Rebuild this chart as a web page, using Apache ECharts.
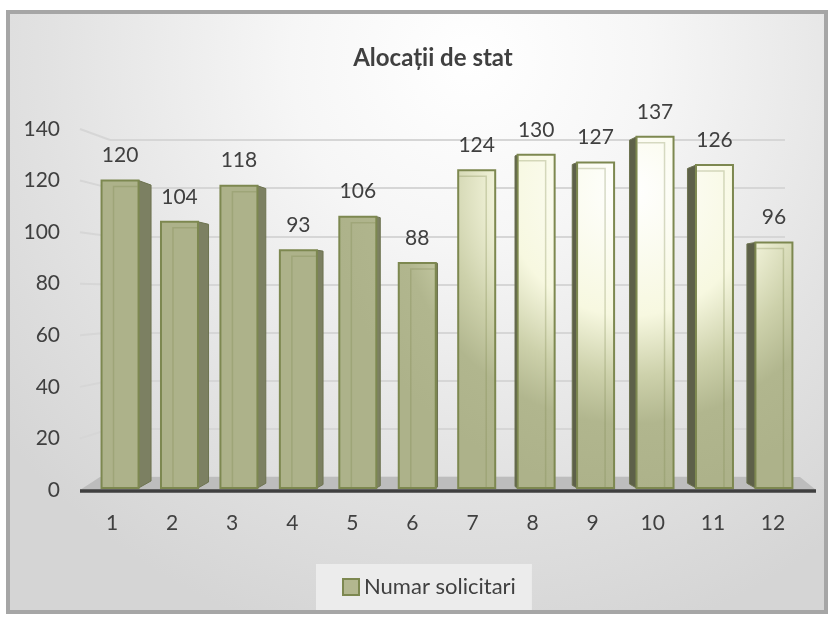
<!DOCTYPE html>
<html>
<head>
<meta charset="utf-8">
<script src="https://cdn.jsdelivr.net/npm/echarts@6/dist/echarts.min.js"></script>
<style>
  html, body { margin: 0; padding: 0; background: #ffffff; }
  #chart { width: 830px; height: 619px; }
</style>
</head>
<body>
<div id="chart"></div>
<script>
// data
const categories = ['1', '2', '3', '4', '5', '6', '7', '8', '9', '10', '11', '12'];
const values = [120, 104, 118, 93, 106, 88, 124, 130, 127, 137, 126, 96];
const yTicks = [0, 20, 40, 60, 80, 100, 120, 140];
const seriesName = 'Numar solicitari';

const FONT = 'Lato, "Open Sans", sans-serif';
const TEXT = '#404040';
const GRID_LINE = '#d6d6d6';
const yMax = yTicks[yTicks.length - 1];
const yStep = yTicks[1] - yTicks[0];

// light source on the bars (global coords)
const barFill = new echarts.graphic.RadialGradient(630, 190, 300, [
  { offset: 0, color: '#ffffff' },
  { offset: 0.42, color: '#f7f8e0' },
  { offset: 0.62, color: '#cdd1ab' },
  { offset: 0.78, color: '#b1b68e' },
  { offset: 1, color: '#adb28a' }
], true);

function renderBar(params, api) {
  const i = api.value(0);
  const v = api.value(1);
  const top = api.coord([i, v]);
  const base = api.coord([i, 0]);
  const w = 37;
  const dx = 8 - i * 0.64;
  const x0 = top[0] + dx - w / 2;
  const x1 = x0 + w;
  const yt = top[1];
  const yb = base[1] - 2;

  // side face, toward the middle of the chart
  let s = (5.8 - i) * 2.2;
  s = Math.max(-8.5, Math.min(12.5, s));
  const k = Math.abs(s) * 0.003;
  const vp = 300;
  const children = [];
  if (Math.abs(s) >= 1) {
    const sx = s > 0 ? x1 : x0;
    const fx = sx + s;
    children.push({
      type: 'polygon',
      shape: { points: [[sx, yt], [fx, yt + (vp - yt) * k], [fx, yb + (vp - yb) * k], [sx, yb]] },
      style: { fill: s > 0 ? '#7c8062' : '#5d6049', stroke: '#6d7350', lineWidth: 1 }
    });
  }
  children.push({
    type: 'rect',
    shape: { x: x0, y: yt, width: w, height: yb - yt },
    style: { fill: barFill, stroke: '#7d8850', lineWidth: 2 }
  });
  // bevel line
  const ix = s >= 0 ? x0 + 12 : x1 - 9;
  children.push({
    type: 'polyline',
    shape: { points: s >= 0 ? [[ix, yb - 1], [ix, yt + 6], [x1 - 1, yt + 6]] : [[x0 + 1, yt + 6], [ix, yt + 6], [ix, yb - 1]] },
    style: { stroke: 'rgba(125,136,80,0.3)', lineWidth: 1.5, fill: null }
  });
  children.push({
    type: 'text',
    style: {
      text: String(v), x: x0 + w / 2, y: yt - 25,
      align: 'center', verticalAlign: 'middle',
      font: '21px ' + FONT, fill: TEXT
    }
  });
  return { type: 'group', children: children };
}

const chart = echarts.init(document.getElementById('chart'));

const option = {
  animation: false,
  title: {
    text: 'Alocații de stat',
    left: 428,
    textAlign: 'center',
    top: 41,
    textStyle: { fontFamily: FONT, fontSize: 24, fontWeight: 'bold', color: TEXT }
  },
  legend: {
    data: [{
      name: seriesName,
      icon: 'rect',
      itemStyle: { color: '#b3b78f', borderColor: '#7d8850', borderWidth: 2 }
    }],
    left: 316,
    top: 564,
    padding: [12, 16, 12, 26],
    backgroundColor: '#ececec',
    itemWidth: 16,
    itemHeight: 16,
    textStyle: { fontFamily: FONT, fontSize: 22, color: TEXT }
  },
  grid: [
    // front plane (bars + labels)
    { left: 82, right: 27, top: 129, bottom: 129 },
    // back wall (gridlines)
    { left: 110, right: 45, top: 140, bottom: 142 }
  ],
  xAxis: [
    {
      type: 'category',
      gridIndex: 0,
      data: categories,
      axisLine: { show: false },
      axisTick: { show: false },
      axisLabel: { margin: 23, fontFamily: FONT, fontSize: 21, color: TEXT }
    },
    { type: 'value', gridIndex: 1, show: false }
  ],
  yAxis: [
    {
      type: 'value',
      gridIndex: 0,
      min: 0,
      max: yMax,
      interval: yStep,
      axisLine: { show: false },
      axisTick: { show: false },
      splitLine: { show: false },
      axisLabel: { margin: 22, fontFamily: FONT, fontSize: 21, color: TEXT }
    },
    {
      type: 'value',
      gridIndex: 1,
      min: 0,
      max: yMax,
      interval: yStep,
      axisLine: { show: false },
      axisTick: { show: false },
      axisLabel: { show: false },
      splitLine: { lineStyle: { color: GRID_LINE, width: 2 } }
    }
  ],
  series: [{
    name: seriesName,
    type: 'custom',
    xAxisIndex: 0,
    yAxisIndex: 0,
    clip: false,
    itemStyle: { color: '#b3b78f' },
    renderItem: renderBar,
    data: values.map((v, i) => [i, v]),
    z: 3
  }]
};

chart.setOption(option);

// background frame, floor, axis line and left-wall connectors
const frontY = v => chart.convertToPixel({ yAxisIndex: 0 }, v);
const backY = v => chart.convertToPixel({ yAxisIndex: 1 }, v);

const graphics = [
  {
    type: 'rect', z: -10,
    shape: { x: 8, y: 12, width: 818, height: 600 },
    style: {
      fill: new echarts.graphic.RadialGradient(470, 60, 600, [
        { offset: 0, color: '#ffffff' },
        { offset: 0.3, color: '#f6f6f6' },
        { offset: 0.7, color: '#e2e2e2' },
        { offset: 1, color: '#d5d5d5' }
      ], true),
      stroke: '#a6a6a6',
      lineWidth: 4
    }
  },
  {
    type: 'polygon', z: 0,
    shape: { points: [[100, backY(0)], [800, backY(0)], [816, frontY(0)], [80, frontY(0)]] },
    style: { fill: '#bdbdbd' }
  },
  {
    type: 'line', z: 1,
    shape: { x1: 80, y1: frontY(0) + 1, x2: 816, y2: frontY(0) + 1 },
    style: { stroke: '#3f3f3f', lineWidth: 3.5 }
  }
];
yTicks.forEach(v => {
  if (v === 0) return;
  graphics.push({
    type: 'line', z: 0,
    shape: { x1: 80, y1: frontY(v), x2: 110, y2: backY(v) },
    style: { stroke: GRID_LINE, lineWidth: 2 }
  });
});

chart.setOption({ graphic: graphics });
</script>
</body>
</html>
